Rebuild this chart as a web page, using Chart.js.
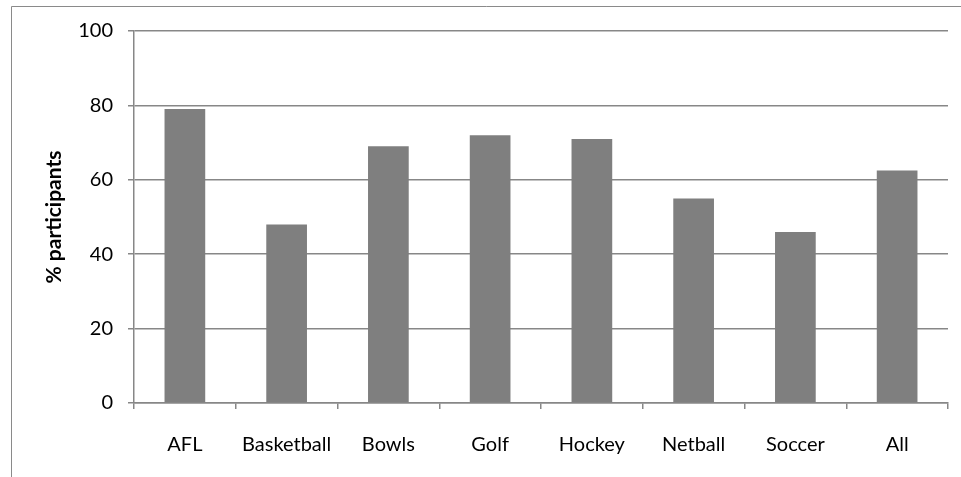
<!DOCTYPE html>
<html>
<head>
	<title>% participants by sport</title>
	<script src="https://cdn.jsdelivr.net/npm/chart.js"></script>
	<style>
		html, body { margin: 0; padding: 0; background: #fff; }
		.chart-container { position: relative; width: 961px; height: 477px; }
	</style>
</head>
<body>
	<div class="chart-container">
		<canvas id="myChart"></canvas>
	</div>
	<script>
		// data
		const sports = ['AFL', 'Basketball', 'Bowls', 'Golf', 'Hockey', 'Netball', 'Soccer', 'All'];
		const participants = [79, 48, 69, 72, 71, 55, 46, 62.5];
		const yTicks = [0, 20, 40, 60, 80, 100];

		const gray = '#878787';
		const font = "Lato, 'Open Sans', sans-serif";

		// outer frame of the chart object (cropped on right and bottom)
		const framePlugin = {
			id: 'frame',
			beforeDraw(chart) {
				const c = chart.ctx;
				c.save();
				c.strokeStyle = '#8a8a8a';
				c.lineWidth = 1;
				c.beginPath();
				c.moveTo(11.5, 477);
				c.lineTo(11.5, 6.5);
				c.lineTo(961, 6.5);
				c.stroke();
				c.restore();
			}
		};

		const ctx = document.getElementById('myChart').getContext('2d');
		const myChart = new Chart(ctx, {
			type: 'bar',
			data: {
				labels: sports,
				datasets: [{
					label: '% participants',
					data: participants,
					backgroundColor: '#7f7f7f',
					borderWidth: 0,
					categoryPercentage: 1,
					barPercentage: 0.4
				}]
			},
			options: {
				responsive: true,
				maintainAspectRatio: false,
				animation: false,
				layout: { padding: { top: 31, right: 13, bottom: 0, left: 0 } },
				plugins: {
					legend: { display: false },
					tooltip: { enabled: false }
				},
				scales: {
					x: {
						grid: {
							display: true,
							drawOnChartArea: false,
							drawTicks: true,
							tickLength: 6,
							color: gray,
							lineWidth: 1.5
						},
						border: { display: true, color: gray, width: 1.5 },
						ticks: {
							color: '#000',
							padding: 24,
							font: { family: font, size: 20 },
							maxRotation: 0
						},
						afterFit(scale) { scale.height = 74; }
					},
					y: {
						min: 0,
						max: 100,
						afterBuildTicks(scale) {
							scale.ticks = yTicks.map(v => ({ value: v }));
						},
						grid: {
							color: gray,
							lineWidth: 1.5,
							tickLength: 6
						},
						border: { display: true, color: gray, width: 1.5 },
						ticks: {
							color: '#000',
							padding: 15,
							font: { family: font, size: 20 }
						},
						title: {
							display: true,
							text: '% participants',
							color: '#000',
							font: { family: font, size: 21, weight: 'bold' },
							padding: { top: 42, bottom: 0 }
						},
						afterFit(scale) { scale.width = 134; }
					}
				}
			},
			plugins: [framePlugin]
		});
	</script>
</body>
</html>
